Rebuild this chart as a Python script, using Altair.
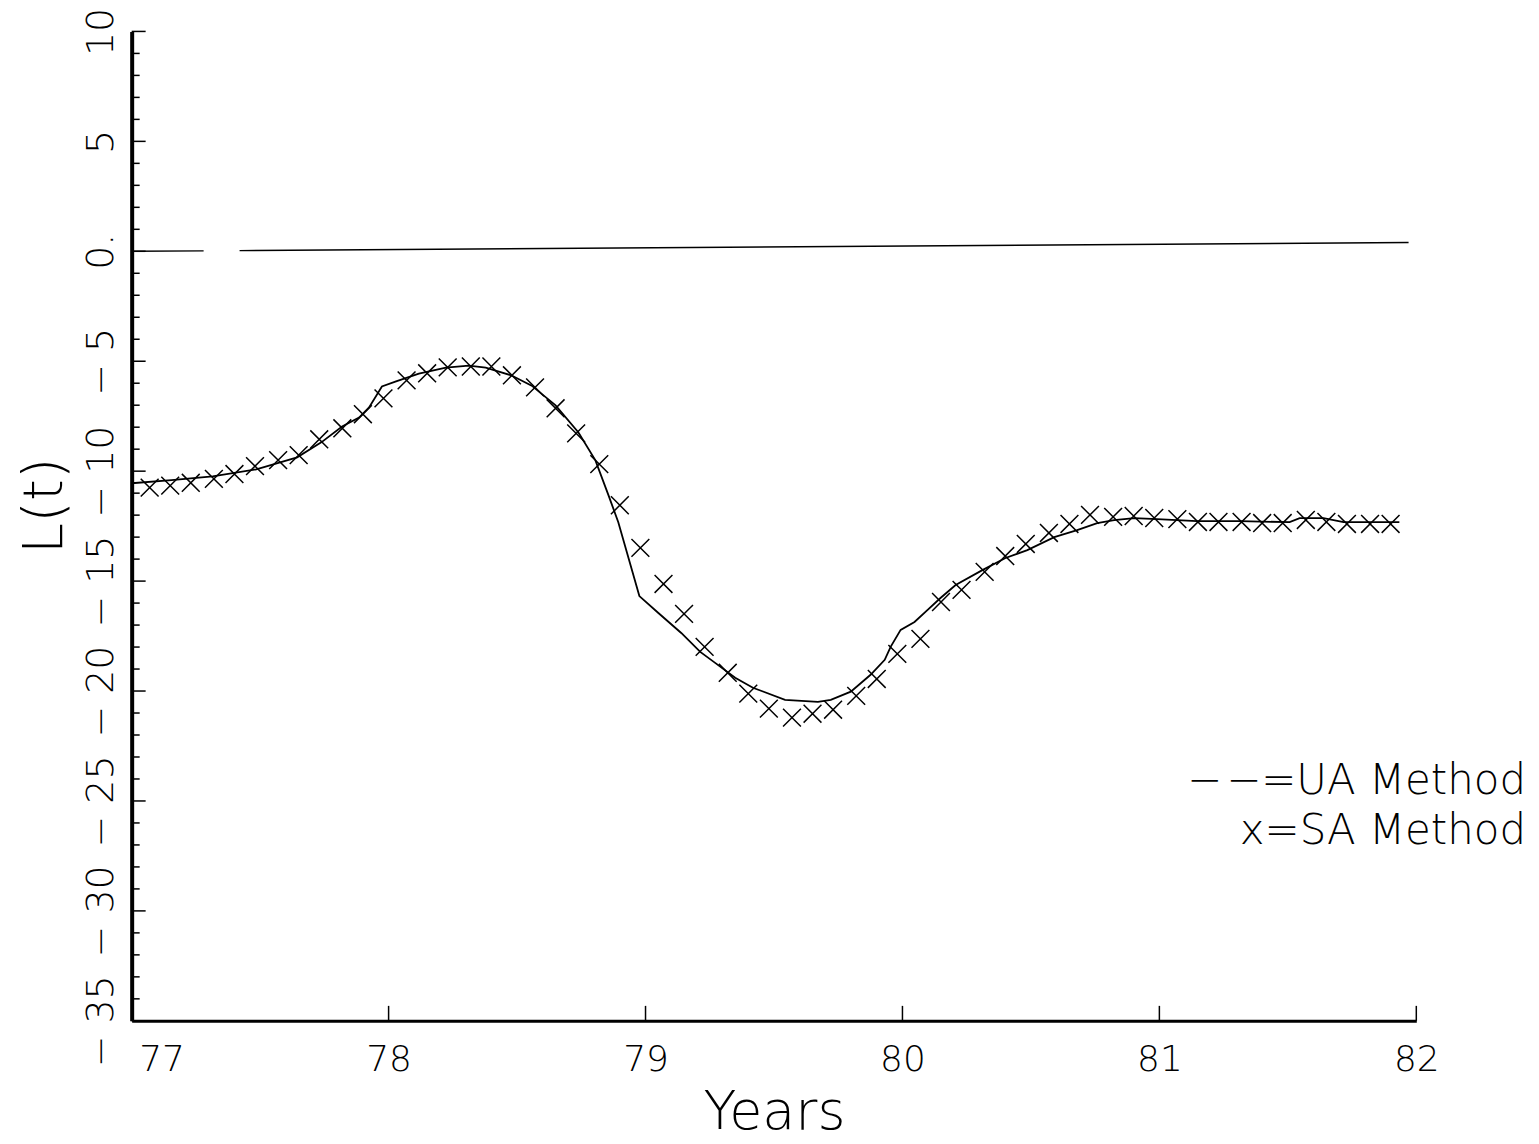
import altair as alt
import pandas as pd

# SA method (x markers), monthly
sa_years = [77.07, 77.15, 77.23, 77.32, 77.40, 77.48, 77.57, 77.65, 77.73, 77.82,
            77.90, 77.98, 78.07, 78.15, 78.23, 78.32, 78.40, 78.48, 78.57, 78.65,
            78.73, 78.82, 78.90, 78.98, 79.07, 79.15, 79.23, 79.32, 79.40, 79.48,
            79.57, 79.65, 79.73, 79.82, 79.90, 79.98, 80.07, 80.15, 80.23, 80.32,
            80.40, 80.48, 80.57, 80.65, 80.73, 80.82, 80.90, 80.98, 81.07, 81.15,
            81.23, 81.32, 81.40, 81.48, 81.57, 81.65, 81.73, 81.82, 81.90]
sa_values = [-10.75, -10.66, -10.53, -10.35, -10.13, -9.77, -9.50, -9.27, -8.55, -8.05,
             -7.41, -6.69, -5.87, -5.55, -5.28, -5.24, -5.24, -5.64, -6.19, -7.14,
             -8.28, -9.68, -11.55, -13.49, -15.13, -16.49, -17.99, -19.17, -20.12, -20.80,
             -21.21, -21.03, -20.85, -20.22, -19.45, -18.31, -17.63, -15.95, -15.40, -14.58,
             -13.86, -13.31, -12.81, -12.40, -11.99, -12.08, -12.04, -12.13, -12.18, -12.31,
             -12.31, -12.31, -12.36, -12.36, -12.22, -12.31, -12.40, -12.40, -12.40]

# solid curve
ua_years = [77.000, 77.155, 77.315, 77.485, 77.644, 77.738, 77.819, 77.885, 77.924, 77.974,
            78.029, 78.118, 78.223, 78.312, 78.378, 78.479, 78.557, 78.650, 78.739, 78.805,
            78.856, 78.894, 78.976, 79.050, 79.139, 79.213, 79.271, 79.349, 79.418, 79.543,
            79.671, 79.721, 79.799, 79.876, 79.931, 79.954, 79.993, 80.047, 80.098, 80.148,
            80.207, 80.311, 80.401, 80.486, 80.591, 80.680, 80.758, 80.824, 80.902, 80.991,
            81.146, 81.313, 81.507, 81.546, 81.639, 81.717, 81.934]
ua_values = [-10.55, -10.41, -10.24, -9.92, -9.37, -8.69, -7.97, -7.56, -7.10, -6.15,
             -5.92, -5.56, -5.29, -5.20, -5.29, -5.65, -6.11, -7.01, -8.24, -9.51,
             -11.10, -12.32, -15.68, -16.45, -17.36, -18.22, -18.72, -19.40, -19.85, -20.40,
             -20.49, -20.40, -20.03, -19.26, -18.58, -17.99, -17.22, -16.86, -16.31, -15.77,
             -15.18, -14.50, -13.95, -13.59, -13.00, -12.68, -12.36, -12.23, -12.14, -12.18,
             -12.27, -12.27, -12.32, -12.14, -12.14, -12.32, -12.32]

# zero reference line (two segments)
zero_years = [77.00, 77.28, 77.42, 81.97]
zero_values = [0.0, 0.02, 0.03, 0.40]
zero_seg = ["a", "a", "b", "b"]

x_ticks = [77, 78, 79, 80, 81, 82]
y_ticks = [-35, -30, -25, -20, -15, -10, -5, 0, 5, 10]
y_minor = list(range(-35, 11))

legend_ua = "\u2212\u200a\u2212=UA Method"
legend_sa = "x=SA Method"

FONT = "DejaVu Sans"
FW = 200
W, H = 1288, 992

sa_df = pd.DataFrame({"year": sa_years, "L": sa_values})
ua_df = pd.DataFrame({"year": ua_years, "L": ua_values})
zero_df = pd.DataFrame({"year": zero_years, "L": zero_values, "seg": zero_seg})
xt_df = pd.DataFrame({"year": x_ticks[1:]})
ymin_df = pd.DataFrame({"L": [v for v in y_minor if v % 5 != 0]})
ymaj_df = pd.DataFrame({"L": [v for v in y_minor if v % 5 == 0]})

xscale = alt.Scale(domain=[77, 82], nice=False, zero=False)
yscale = alt.Scale(domain=[-35, 10], nice=False, zero=False)

xaxis = alt.Axis(values=x_ticks, title="Years", format="d", grid=False,
                 ticks=False, tickSize=0, domainWidth=3, domainColor="black",
                 labelFont=FONT, labelFontSize=36, labelFontWeight=FW, labelColor="black",
                 labelBaseline="alphabetic", labelPadding=50, labelAlign="center",
                 labelOffset={"condition": {"test": "datum.value == 77", "value": 30}, "value": 0},
                 titleFont=FONT, titleFontSize=54, titleFontWeight=FW, titleColor="black",
                 titleBaseline="alphabetic", titleY=108, titleX=W / 2)
yaxis = alt.Axis(values=y_ticks, title="L(t)", grid=False,
                 ticks=False, tickSize=0, domainWidth=4, domainColor="black",
                 labelExpr="datum.value == 0 ? '0.' : (datum.value < 0 ? '\u2212 ' + format(-datum.value, 'd') : datum.label)",
                 labelFont=FONT, labelFontSize=38, labelFontWeight=FW, labelColor="black",
                 labelAngle=270, labelAlign="center", labelBaseline="alphabetic", labelPadding=19,
                 titleFont=FONT, titleFontSize=56, titleFontWeight=FW, titleColor="black",
                 titleAngle=270, titleBaseline="alphabetic", titleAlign="center",
                 titleX=-70, titleY=475)

X = alt.X("year:Q", scale=xscale, axis=xaxis)
Y = alt.Y("L:Q", scale=yscale, axis=yaxis)

zero = alt.Chart(zero_df).mark_line(color="black", strokeWidth=1.4).encode(
    x=X, y=Y, detail="seg:N")
curve = alt.Chart(ua_df).mark_line(color="black", strokeWidth=1.8).encode(x=X, y=Y)
marks = alt.Chart(sa_df).mark_point(
    shape="M-1,-1L1,1M-1,1L1,-1", size=320, filled=False, color="black",
    strokeWidth=1.5, opacity=1).encode(x=X, y=Y)

ymin_r = alt.Chart(ymin_df).mark_rule(color="black", strokeWidth=1.5).encode(
    y=Y, x=alt.value(0), x2=alt.value(8))
ymaj_r = alt.Chart(ymaj_df).mark_rule(color="black", strokeWidth=1.5).encode(
    y=Y, x=alt.value(0), x2=alt.value(14))
xt_r = alt.Chart(xt_df).mark_rule(color="black", strokeWidth=1.5).encode(
    x=X, y=alt.value(H), y2=alt.value(H - 15))

text_style = dict(align="right", baseline="alphabetic", font=FONT, fontSize=42,
                  fontWeight=FW, color="black")
leg1 = alt.Chart(pd.DataFrame({"t": [legend_ua]})).mark_text(**text_style).encode(
    text="t:N", x=alt.value(1398), y=alt.value(765))
leg2 = alt.Chart(pd.DataFrame({"t": [legend_sa]})).mark_text(**text_style).encode(
    text="t:N", x=alt.value(1398), y=alt.value(815))

chart = alt.layer(zero, curve, marks, ymin_r, ymaj_r, xt_r, leg1, leg2).properties(
    width=W, height=H,
    autosize=alt.AutoSizeParams(type="none"),
    padding={"left": 124, "top": 22, "right": 115, "bottom": 121},
    background="white",
).configure_view(stroke=None)

chart.save("out.html", embed_options={"renderer": "svg", "actions": False})
